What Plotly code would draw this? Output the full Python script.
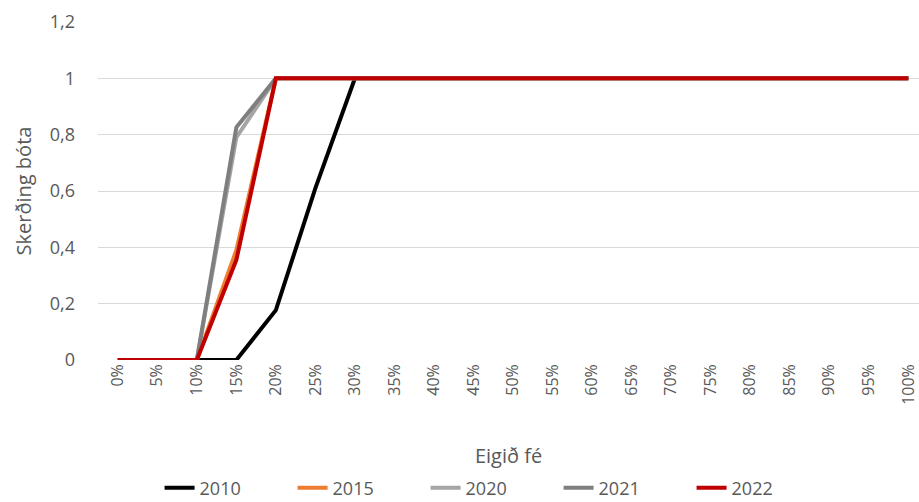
import plotly.graph_objects as go

categories = ["0%", "5%", "10%", "15%", "20%", "25%", "30%", "35%", "40%", "45%", "50%",
              "55%", "60%", "65%", "70%", "75%", "80%", "85%", "90%", "95%", "100%"]
s2010 = [0, 0, 0, 0, 0.177, 0.61, 1] + [1] * 14
s2015 = [0, 0, 0, 0.39, 1] + [1] * 16
s2020 = [0, 0, 0, 0.79, 1] + [1] * 16
s2021 = [0, 0, 0, 0.826, 1] + [1] * 16
s2022 = [0, 0, 0, 0.355, 1] + [1] * 16

series = [
    ("2010", s2010, "#000000"),
    ("2015", s2015, "#ED7D31"),
    ("2020", s2020, "#A5A5A5"),
    ("2021", s2021, "#7F7F7F"),
    ("2022", s2022, "#C00000"),
]

x = list(range(len(categories)))
fig = go.Figure()
for name, vals, col in series:
    fig.add_trace(go.Scatter(x=x, y=vals, mode="lines", name=name,
                             line=dict(color=col, width=4), cliponaxis=False))

font = "Open Sans"
fig.update_layout(
    width=919, height=502,
    margin=dict(l=98, r=0, t=22, b=142),
    plot_bgcolor="white", paper_bgcolor="white",
    font=dict(family=font, size=16, color="#595959"),
    showlegend=True,
    legend=dict(orientation="h", x=0.48, xanchor="center", y=14 / 502, yanchor="middle",
                yref="container",
                font=dict(size=18, color="#595959"), entrywidth=88, entrywidthmode="pixels",
                tracegroupgap=0),
    xaxis=dict(tickvals=x, ticktext=categories, tickangle=-90, range=[-0.5, 20.27],
               showgrid=False, zeroline=False, showline=False, ticks="", automargin=False,
               ticklabeloverflow="allow",
               tickfont=dict(size=16, color="#595959"),
               title=dict(text="Eigið fé", font=dict(size=20, color="#595959"), standoff=46)),
    yaxis=dict(range=[0, 1.2], tickvals=[0, 0.2, 0.4, 0.6, 0.8, 1, 1.2],
               ticktext=["0", "0,2", "0,4", "0,6", "0,8", "1", "1,2"],
               showgrid=True, gridcolor="#D9D9D9", gridwidth=1, zeroline=False,
               showline=False, ticks="", ticklabelstandoff=22, automargin=False,
               tickfont=dict(size=18, color="#595959"),
               title=dict(text="Skerðing bóta", font=dict(size=20, color="#595959"), standoff=12)),
)
fig.write_html("out.html", config={"displayModeBar": False},
               post_script="document.body.style.margin='0';")
